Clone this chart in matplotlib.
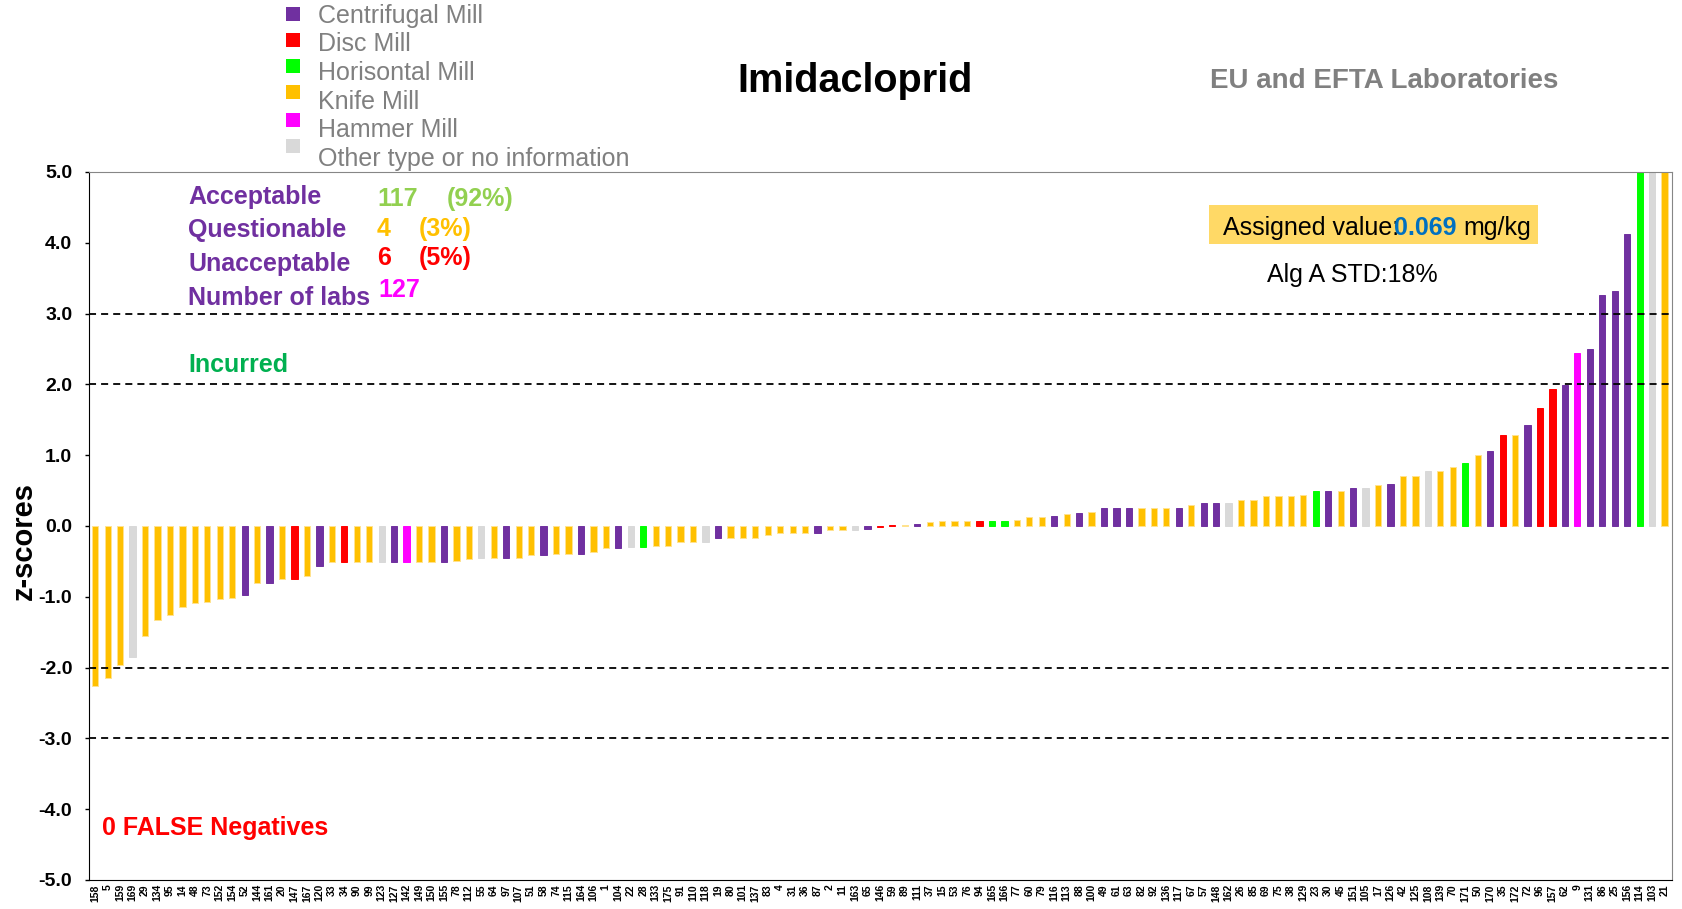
import matplotlib.pyplot as plt
from matplotlib.patches import Rectangle

plt.rcParams['font.family'] = ['Liberation Sans', 'DejaVu Sans']

# Lab codes in plotting order (sorted by z-score)
labs = [158, 5, 159, 169, 29, 134, 95, 14, 48, 73, 152, 154, 52, 144, 161, 20,
        147, 167, 120, 33, 34, 90, 99, 123, 127, 142, 149, 150, 155, 78, 112, 55,
        64, 97, 107, 51, 58, 74, 115, 164, 106, 1, 104, 22, 28, 133, 175,
        91, 110, 118, 19, 80, 101, 137, 83, 4, 31, 36, 87, 2, 11, 163, 65,
        146, 59, 89, 111, 37, 15, 53, 76, 94, 165, 166, 77, 60, 79, 116,
        113, 88, 100, 49, 61, 63, 82, 92, 136, 117, 67, 57, 148, 162, 26, 85,
        69, 75, 38, 129, 23, 30, 45, 151, 105, 17, 126, 42, 125, 108, 139, 70,
        171, 50, 170, 35, 172, 72, 96, 157, 62, 9, 131, 86, 25, 156, 114, 103, 21]

# Mill type per lab: C centrifugal, D disc, H horisontal, K knife, M hammer, O other
mills = list("KKKOKKKKKKKKCKCK"
             "DKCKDKKOCMKKCKKO"
             "KCKKCKKCKKCOHKK"
             "KKOCKKKKKKKCKKOC"
             "DDKCKKKKDHHKKKC"
             "KCKCCCKKKCKCCOKK"
             "KKKKHCKCOKCKKOKK"
             "HKCDKCDDCMCCCCHOK")

z_scores = [-2.26, -2.15, -1.96, -1.85, -1.56, -1.33, -1.26, -1.15, -1.09, -1.08,
            -1.03, -1.02, -0.98, -0.81, -0.80, -0.75, -0.75, -0.71, -0.57, -0.51,
            -0.51, -0.51, -0.51, -0.51, -0.51, -0.51, -0.51, -0.51, -0.51, -0.50,
            -0.46, -0.45, -0.45, -0.45, -0.45, -0.41, -0.41, -0.40, -0.40, -0.40,
            -0.37, -0.31, -0.31, -0.29, -0.29, -0.28, -0.28, -0.23, -0.23, -0.23,
            -0.17, -0.17, -0.17, -0.17, -0.13, -0.10, -0.10, -0.10, -0.10, -0.05,
            -0.05, -0.05, -0.04, -0.01, 0.01, 0.02, 0.03, 0.05, 0.07, 0.07,
            0.07, 0.07, 0.07, 0.07, 0.08, 0.13, 0.13, 0.14, 0.17, 0.19,
            0.20, 0.25, 0.26, 0.26, 0.26, 0.26, 0.26, 0.26, 0.30, 0.32,
            0.32, 0.33, 0.37, 0.37, 0.42, 0.43, 0.43, 0.44, 0.49, 0.49,
            0.49, 0.53, 0.54, 0.58, 0.60, 0.71, 0.71, 0.78, 0.78, 0.83,
            0.89, 1.00, 1.06, 1.29, 1.29, 1.43, 1.66, 1.93, 1.99, 2.45,
            2.50, 3.26, 3.32, 4.12, 5.6, 6.0, 7.5]

mill_codes = ['C', 'D', 'H', 'K', 'M', 'O']
mill_names = ['Centrifugal Mill', 'Disc Mill', 'Horisontal Mill', 'Knife Mill',
              'Hammer Mill', 'Other type or no information']
mill_colors = ['#7030A0', '#FF0000', '#00FF00', '#FFC000', '#FF00FF', '#D9D9D9']

W, H = 1682, 909
fig = plt.figure(figsize=(W / 100, H / 100), dpi=100)
ax = fig.add_axes([89 / W, 1 - 880 / H, (1672 - 89) / W, (880 - 172) / H])

colour_of = dict(zip(mill_codes, mill_colors))
xs = list(range(len(labs)))
faces = [colour_of[m] for m in mills]
edges = ['#FFE38F' if m == 'K' else colour_of[m] for m in mills]
ax.bar(xs, z_scores, width=0.5, color=faces, edgecolor=edges, linewidth=0.7)

for lim in (-3, -2, 2, 3):
    ax.axhline(lim, color='black', lw=1.3, ls=(0, (3.9, 2.8)))

ax.set_xlim(-0.5, len(labs) - 0.4)
ax.set_ylim(-5, 5)
ax.set_yticks(range(-5, 6))
ax.set_yticklabels([f'{v:.1f}' for v in range(-5, 6)], fontsize=14, fontweight='bold')
ax.set_xticks(xs)
ax.set_xticklabels(labs, rotation=90, fontsize=7.5, fontweight='bold')
ax.tick_params(axis='x', length=0, pad=3)
ax.tick_params(axis='y', direction='out', length=3, width=1, pad=9)
for side in ('left', 'bottom'):
    ax.spines[side].set_color('black')
for side in ('top', 'right'):
    ax.spines[side].set_color('#868686')


def put(px, py, s, **kw):
    kw.setdefault('va', 'center')
    return fig.text(px / W, 1 - py / H, s, **kw)


put(855, 81, 'Imidacloprid', ha='center', fontsize=28.5, fontweight='bold')
put(1384, 81, 'EU and EFTA Laboratories', ha='center', fontsize=20,
    fontweight='bold', color='#808080')
fig.text(24 / W, 1 - 541 / H, 'z-scores', rotation=90, ha='center', va='center',
         fontsize=21, fontweight='bold')

# legend of mill types
sq_y = [14, 40, 66, 92, 120, 146]
txt_y = [16, 44, 73, 102, 130, 159]
for name, col, sy, ty in zip(mill_names, mill_colors, sq_y, txt_y):
    fig.add_artist(Rectangle((286 / W, 1 - (sy + 7) / H), 14 / W, 14 / H,
                             transform=fig.transFigure, color=col, lw=0))
    put(318, ty, name, ha='left', fontsize=18, color='#808080')

# summary counts
n = len(z_scores)
n_ok = sum(abs(z) <= 2 for z in z_scores)
n_q = sum(2 < abs(z) <= 3 for z in z_scores)
n_bad = sum(abs(z) > 3 for z in z_scores)
purple = '#7030A0'
bold = dict(ha='left', fontsize=18, fontweight='bold')
put(188, 197, 'Acceptable', color=purple, **bold)
put(188, 230, 'Questionable', color=purple, **bold)
put(188, 264, 'Unacceptable', color=purple, **bold)
put(188, 298, 'Number of labs', color=purple, **bold)
put(377, 199, str(n_ok), color='#92D050', **bold)
put(447, 199, f'({round(100 * n_ok / n)}%)', color='#92D050', **bold)
put(377, 229, str(n_q), color='#FFC000', **bold)
put(419, 229, f'({round(100 * n_q / n)}%)', color='#FFC000', **bold)
put(377, 258, str(n_bad), color='#FF0000', **bold)
put(419, 258, f'({round(100 * n_bad / n)}%)', color='#FF0000', **bold)
put(378, 290, str(n), color='#FF00FF', **bold)

put(188, 365, 'Incurred', color='#00B050', **bold)
put(102, 828, '0 FALSE Negatives', color='#FF0000', ha='left', fontsize=18,
    fontweight='bold')

# assigned value box
fig.add_artist(Rectangle((1209 / W, 1 - 243.5 / H), (1538 - 1209) / W, 38.5 / H,
                         transform=fig.transFigure, color='#FFD966', lw=0))
put(1223, 228, 'Assigned value:', ha='left', fontsize=18)
put(1394, 228, '0.069', ha='left', fontsize=18, fontweight='bold', color='#0070C0')
put(1463, 228, 'mg/kg', ha='left', fontsize=18)
put(1267, 275, 'Alg A STD:18%', ha='left', fontsize=18)

fig.savefig('out.png', dpi=100)
